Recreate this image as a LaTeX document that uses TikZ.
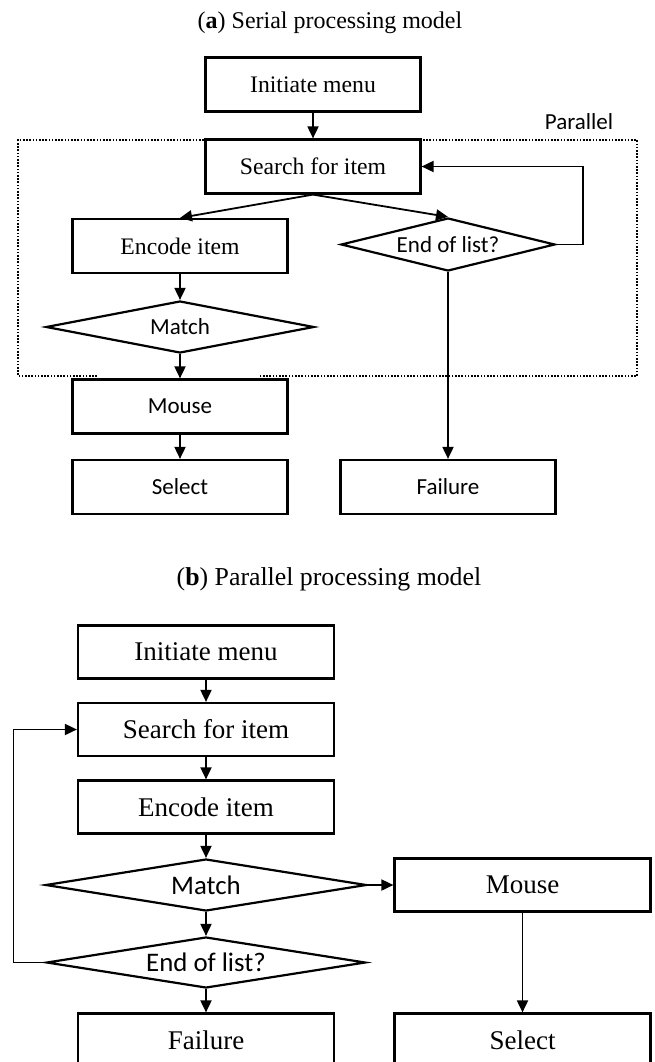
\documentclass[tikz,border=0pt]{standalone}
\usepackage{fontspec}
\setmainfont{Liberation Serif}
\newfontfamily\calfont{Carlito}
\usetikzlibrary{arrows.meta, shapes.geometric}

\begin{document}
\begin{tikzpicture}[x=1pt, y=-1pt,
  boxa/.style={draw, line width=2.2pt, minimum width=215pt, minimum height=54pt, inner sep=0pt, font=\fontsize{23.7}{28}\selectfont},
  boxb/.style={boxa, minimum width=256pt, minimum height=53pt, font=\fontsize{27}{32}\selectfont},
  sansa/.style={font=\calfont\fontsize{23}{28}\selectfont},
  sansb/.style={font=\calfont\fontsize{26.8}{32}\selectfont},
  dec/.style={draw, diamond, aspect=5, line width=2.2pt, inner sep=0pt},
  arr/.style={-{Triangle[length=12pt, width=11pt]}, line width=1.8pt},
  dotbox/.style={line width=1.8pt, dash pattern=on 1.6pt off 1.6pt},
  ttl/.style={anchor=base, font=\fontsize{24}{29}\selectfont}]
  \useasboundingbox (0,0) rectangle (655,1062);
  \clip (0,0) rectangle (655,1062);

  \node[ttl] (ttlA) at (330,29) {(\textbf{a}) Serial processing model};
  \draw[dotbox] (97,376) -- (18,376) -- (18,140) -- (637,140) -- (637,376) -- (259,376);
  \node[sansa, anchor=base] (par) at (579,129) {Parallel};
  \node[boxa] (iniA) at (313,84.5) {Initiate menu};
  \node[boxa] (srcA) at (313,166.5) {Search for item};
  \node[boxa] (encA) at (180,246) {Encode item};
  \node[dec, sansa, minimum width=214pt, minimum height=53pt] (endA) at (448,244.5) {End of list?};
  \node[dec, sansa, minimum width=268pt, minimum height=52pt] (matA) at (180,327) {Match};
  \node[boxa, sansa] (mouA) at (180,406.5) {Mouse};
  \node[boxa, sansa] (selA) at (180,487) {Select};
  \node[boxa, sansa] (faiA) at (448,487) {Failure};
  \draw[arr] (iniA) -- (srcA);
  \draw[arr] (srcA.south) -- (encA.north);
  \draw[arr] (srcA.south) -- (endA.north);
  \draw[arr] (encA) -- (matA);
  \draw[arr] (matA) -- (mouA);
  \draw[arr] (mouA) -- (selA);
  \draw[arr] (endA) -- (faiA);
  \draw[arr] (endA.east) -- ++(27,0) |- (srcA.east);

  \node[ttl, font=\fontsize{25.8}{31}\selectfont] (ttlB) at (329,585) {(\textbf{b}) Parallel processing model};
  \node[boxb] (iniB) at (206,652) {Initiate menu};
  \node[boxb] (srcB) at (206,729.5) {Search for item};
  \node[boxb] (encB) at (206,807) {Encode item};
  \node[dec, sansb, minimum width=321pt, minimum height=52pt] (matB) at (206,885) {Match};
  \node[dec, sansb, minimum width=319pt, minimum height=51pt] (endB) at (206,962.5) {End of list?};
  \node[boxb] (faiB) at (206,1040) {Failure};
  \node[boxb] (mouB) at (522.5,885) {Mouse};
  \node[boxb] (selB) at (522.5,1040) {Select};
  \draw[arr] (iniB) -- (srcB);
  \draw[arr] (srcB) -- (encB);
  \draw[arr] (encB) -- (matB);
  \draw[arr] (matB) -- (endB);
  \draw[arr] (endB) -- (faiB);
  \draw[arr] (matB) -- (mouB);
  \draw[arr] (mouB) -- (selB);
  \draw[arr] (endB.west) -- ++(-32,0) |- (srcB.west);
\end{tikzpicture}
\end{document}
